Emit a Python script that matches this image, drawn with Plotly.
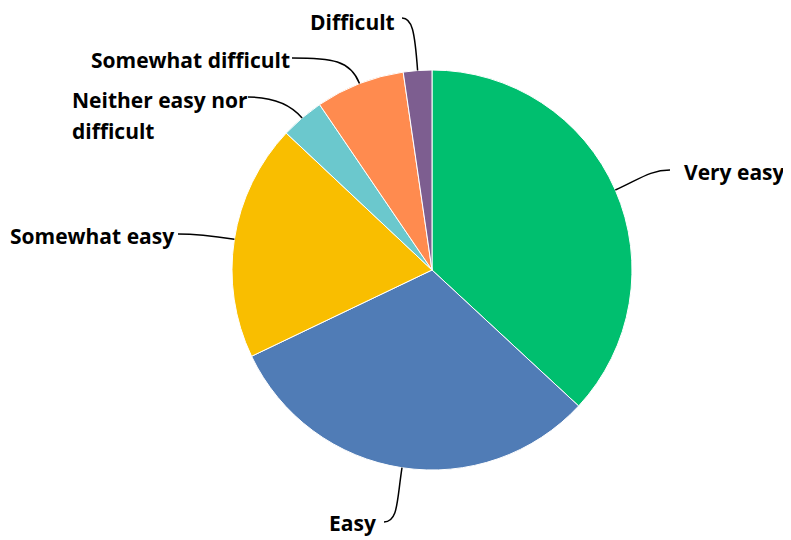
import math
import plotly.graph_objects as go

# survey answers, share of respondents (%)
labels = ['Very easy', 'Easy', 'Somewhat easy', 'Neither easy nor difficult',
          'Somewhat difficult', 'Difficult']
values = [36.9, 31.0, 19.1, 3.5, 7.2, 2.3]
colors = ['#00BF6F', '#507CB6', '#F9BE00', '#6BC8CD', '#FF8B4F', '#7D5E90']

# page pixels; the plot div sits 8px in from the top-left corner
W, H, OFF = 791, 540, 8
cx, cy, r = 432, 270, 200
FW, FH = W - OFF, H - OFF

fig = go.Figure()
fig.add_trace(go.Pie(
    labels=labels, values=values, sort=False, direction='clockwise', rotation=0,
    marker=dict(colors=colors, line=dict(color='white', width=1)),
    textinfo='none', hoverinfo='label+percent', showlegend=False,
    domain=dict(x=[(cx - r - OFF) / FW, (cx + r - OFF) / FW],
                y=[(H - cy - r) / FH, (H - cy + r) / FH]),
))

# label placement: first-line anchor, line end, bend lengths
label_lines = [['Very easy'], ['Easy'], ['Somewhat easy'], ['Neither easy nor', 'difficult'],
               ['Somewhat difficult'], ['Difficult']]
label_pos = [(682, 172, 'left'), (378, 523, 'right'), (176, 236, 'right'),
             (70, 100, 'left'), (292, 60, 'right'), (397, 22, 'right')]
line_end = [(670, 170), (384, 522), (178, 234), (248, 97), (292, 58), (402, 18)]
bends = [(25, 20), (35, 14), (15, 15), (18, 25), (25, 40), (40, 10)]
line_gap = 31

total = sum(values)
start = 0
shapes = []
annotations = []
for i, v in enumerate(values):
    mid = (start + v / 2) / total * 2 * math.pi
    start += v
    ux, uy = math.sin(mid), -math.cos(mid)
    px, py = cx + r * ux, cy + r * uy
    ex, ey = line_end[i]
    k1, k2 = bends[i]
    side = 1 if ex > px else -1
    c1 = (px + k1 * ux, py + k1 * uy)
    c2 = (ex - side * k2, ey)
    path = f'M {px:.1f},{py:.1f} C {c1[0]:.1f},{c1[1]:.1f} {c2[0]:.1f},{c2[1]:.1f} {ex},{ey}'
    shapes.append(dict(type='path', path=path, xref='x', yref='y',
                       line=dict(color='black', width=1.5)))
    tx, ty, anchor = label_pos[i]
    for j, txt in enumerate(label_lines[i]):
        annotations.append(dict(x=tx, y=ty + j * line_gap, xref='x', yref='y', text=txt,
                                showarrow=False, xanchor=anchor, yanchor='middle',
                                font=dict(size=21, color='black',
                                          family='Open Sans', weight=700)))

fig.update_layout(
    width=FW, height=FH, margin=dict(l=0, r=0, t=0, b=0),
    paper_bgcolor='white', plot_bgcolor='white',
    xaxis=dict(range=[OFF, W], visible=False, fixedrange=True),
    yaxis=dict(range=[H, OFF], visible=False, fixedrange=True),
    shapes=shapes, annotations=annotations,
)
fig.write_html('out.html')
